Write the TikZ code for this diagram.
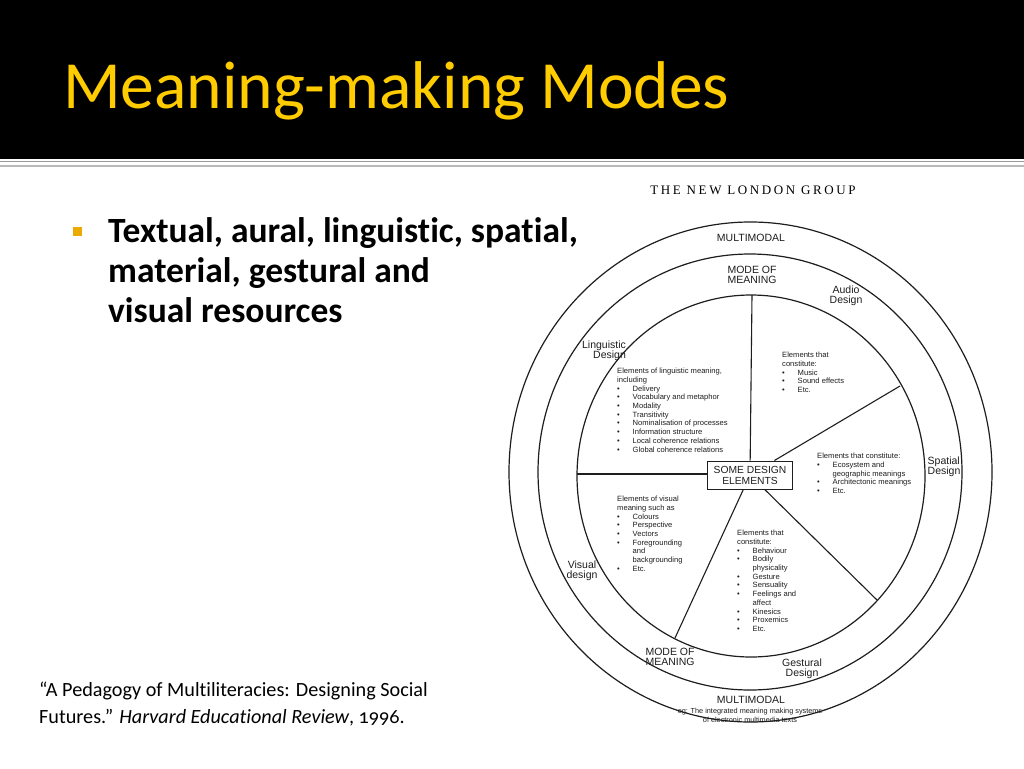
\documentclass[tikz,border=0pt]{standalone}
\usepackage{fontspec}
\setmainfont{Carlito}[Ligatures=NoCommon]
\newfontfamily\diagfont{Liberation Sans}
\newfontfamily\groupfont[LetterSpace=20]{Liberation Serif}
\usetikzlibrary{positioning,calc}
\definecolor{titleyellow}{RGB}{255,204,0}
\definecolor{bulletgold}{RGB}{234,170,0}
\definecolor{inkgray}{RGB}{30,30,30}
\newcommand{\itm}[1]{\makebox[15.5pt][l]{\textbullet}#1}
\newcommand{\cont}[1]{\hspace*{15.5pt}#1}

\begin{document}
\begin{tikzpicture}[
    x=1pt, y=-1pt,
    ring/.style={draw=inkgray, line width=1.2pt},
    spoke/.style={draw=inkgray, line width=1.1pt},
    modelabel/.style={font=\diagfont\fontsize{10.5}{10.5}\selectfont, text=inkgray, align=center, inner sep=0pt},
    elems/.style={font=\diagfont\fontsize{7.6}{8.7}\selectfont, text=inkgray, align=left, anchor=north west, inner sep=0pt},
    centrebox/.style={rectangle, draw=inkgray, line width=1pt, minimum width=85pt, minimum height=28pt, inner sep=1pt, align=center, font=\diagfont\fontsize{10.3}{11}\selectfont, text=inkgray}
]
\useasboundingbox (0,0) rectangle (1024,768);
\fill[white] (0,0) rectangle (1024,768);
% title band
\fill[black] (0,0) rectangle (1024,159);
\draw[gray!80, line width=1pt] (0,161.5) -- (1024,161.5);
\draw[gray!55, line width=2pt] (0,166) -- (1024,166);
\node[anchor=base west, inner sep=0pt, text=titleyellow, font=\fontsize{67.5}{67.5}\selectfont] (title) at (63,108) {Meaning-making Modes};

% bullet text
\fill[bulletgold] (73,227) rectangle (82,236);
\node[anchor=base west, inner sep=0pt, align=left, font=\bfseries\fontsize{35.5}{40}\selectfont] (modes) at (108,322)
  {Textual, aural, linguistic, spatial,\\material, gestural and\\visual resources};

% citation
\node[anchor=base west, inner sep=0pt, align=left, font=\fontsize{20.2}{27}\selectfont] (cite) at (39,723)
  {``A Pedagogy of Multiliteracies: Designing Social\\Futures.'' \textit{Harvard Educational Review}, {\addfontfeatures{Numbers=OldStyle}1996}.};

\node[anchor=base, inner sep=0pt, font=\groupfont\fontsize{13}{13}\selectfont] (group) at (753,194) {THE NEW LONDON GROUP};

% rings
\draw[ring] (750.5,472) ellipse [x radius=241.5, y radius=250];
\draw[ring] (750,472) ellipse [x radius=212, y radius=218];
\draw[ring] (751,476) ellipse [x radius=174, y radius=181];

% centre and spokes
\node[centrebox] (core) at (750,475) {SOME DESIGN\\ELEMENTS};
\coordinate (pTop) at (752,295);
\coordinate (pAudio) at (900,386);
\coordinate (pGest) at (877,600);
\coordinate (pVis) at (675,638);
\coordinate (pLeft) at (577,474);
\draw[spoke] (core) -- (pTop);
\draw[spoke] (core) -- (pAudio);
\draw[spoke] (core) -- (pGest);
\draw[spoke] (core) -- (pVis);
\draw[spoke] (core.west |- pLeft) -- (pLeft);

% ring labels
\node[modelabel] (mmTop) at (751,238) {MULTIMODAL};
\node[modelabel] (momTop) at (752,275) {MODE OF\\MEANING};
\node[modelabel] (audio) at (846,296) {Audio\\Design};
\node[modelabel, align=right] (ling) at (604,351) {Linguistic\\Design};
\node[modelabel, align=left] (spat) at (944,467) {Spatial\\Design};
\node[modelabel] (vis) at (582,571) {Visual\\design};
\node[modelabel, align=left] (momBot) at (670,657) {MODE OF\\MEANING};
\node[modelabel] (gest) at (802,669) {Gestural\\Design};
\node[modelabel] (mmBot) at (751,700) {MULTIMODAL};
\node[modelabel, font=\diagfont\fontsize{7.3}{9}\selectfont] (mmNote) at (750,715)
  {eg: The integrated meaning making systems\\of electronic multimedia texts};

% element lists
\node[elems] (lingList) at (617,368) {Elements of linguistic meaning,\\including\\
  \itm{Delivery}\\\itm{Vocabulary and metaphor}\\\itm{Modality}\\\itm{Transitivity}\\
  \itm{Nominalisation of processes}\\\itm{Information structure}\\
  \itm{Local coherence relations}\\\itm{Global coherence relations}};
\node[elems] (audioList) at (782,352) {Elements that\\constitute:\\
  \itm{Music}\\\itm{Sound effects}\\\itm{Etc.}};
\node[elems] (spatList) at (817,453) {Elements that constitute:\\
  \itm{Ecosystem and}\\\cont{geographic meanings}\\\itm{Architectonic meanings}\\\itm{Etc.}};
\node[elems] (visList) at (617,496) {Elements of visual\\meaning such as\\
  \itm{Colours}\\\itm{Perspective}\\\itm{Vectors}\\\itm{Foregrounding}\\
  \cont{and}\\\cont{backgrounding}\\\itm{Etc.}};
\node[elems] (gestList) at (737,530) {Elements that\\constitute:\\
  \itm{Behaviour}\\\itm{Bodily}\\\cont{physicality}\\\itm{Gesture}\\\itm{Sensuality}\\
  \itm{Feelings and}\\\cont{affect}\\\itm{Kinesics}\\\itm{Proxemics}\\\itm{Etc.}};
\end{tikzpicture}
\end{document}
